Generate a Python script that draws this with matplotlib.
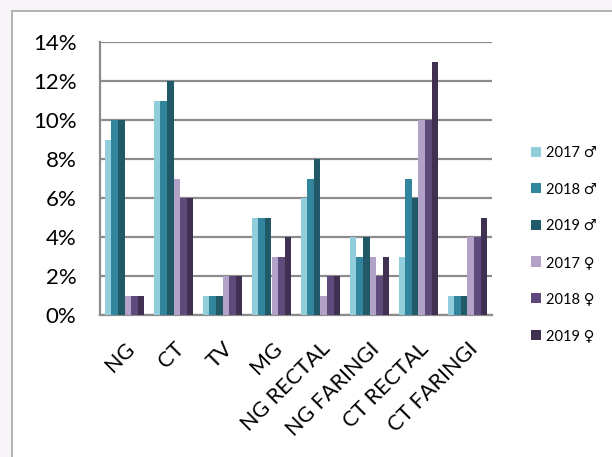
import matplotlib
matplotlib.use("Agg")
import matplotlib.pyplot as plt
from matplotlib.patches import Rectangle
import numpy as np

plt.rcParams["font.family"] = ["Lato", "DejaVu Sans"]

categories = ["NG", "CT", "TV", "MG", "NG RECTAL", "NG FARINGI", "CT RECTAL", "CT FARINGI"]
series_labels = ["2017 ♂", "2018 ♂", "2019 ♂", "2017 ♀", "2018 ♀", "2019 ♀"]
male_2017 = [9, 11, 1, 5, 6, 4, 3, 1]
male_2018 = [10, 11, 1, 5, 7, 3, 7, 1]
male_2019 = [10, 12, 1, 5, 8, 4, 6, 1]
female_2017 = [1, 7, 2, 3, 1, 3, 10, 4]
female_2018 = [1, 6, 2, 3, 2, 2, 10, 4]
female_2019 = [1, 6, 2, 4, 2, 3, 13, 5]
series_values = [male_2017, male_2018, male_2019, female_2017, female_2018, female_2019]
colors = ["#92CDDC", "#31859C", "#215968", "#B3A2C7", "#604A7B", "#403152"]
y_ticks = [0, 2, 4, 6, 8, 10, 12, 14]

fig = plt.figure(figsize=(6.12, 4.57), dpi=100)
fig.patch.set_facecolor("#f8f5f9")
# chart frame (white area with gray border, cut by the image edges)
fig.patches.append(Rectangle((12 / 612, -0.05), 1.0, 1 - 11 / 457 + 0.05,
                             transform=fig.transFigure, facecolor="white",
                             edgecolor="#a6a6a6", linewidth=1.2, zorder=-5))

ax = fig.add_axes([100 / 612, 1 - 315 / 457, 392 / 612, 273 / 457])
ax.set_zorder(2)
ax.set_facecolor("white")

x = np.arange(len(categories))
w = 0.133
for i, (vals, col, lab) in enumerate(zip(series_values, colors, series_labels)):
    ax.bar(x + (i - 2.5) * w, vals, width=w, color=col, label=lab, zorder=3)

ax.set_xlim(-0.5, len(categories) - 0.5)
ax.set_ylim(0, 14)
ax.set_yticks(y_ticks)
ax.set_yticklabels([f"{t}%" for t in y_ticks], fontsize=16)
ax.set_xticks(x)
ax.set_xticklabels(categories, rotation=45, ha="right", rotation_mode="anchor", fontsize=15.5)
ax.tick_params(axis="both", length=0)
ax.tick_params(axis="y", pad=17)
ax.tick_params(axis="x", pad=17)

ax.set_axisbelow(True)
ax.yaxis.grid(True, color="#8c8c8c", linewidth=1.6)
for side in ["top", "right"]:
    ax.spines[side].set_visible(False)
for side in ["left", "bottom"]:
    ax.spines[side].set_color("#8c8c8c")
    ax.spines[side].set_linewidth(1.6)

handles, labels = ax.get_legend_handles_labels()
leg = fig.legend(handles, labels, loc="upper left", bbox_to_anchor=(525 / 612, 1 - 140 / 457),
                 frameon=False, fontsize=10.5, labelspacing=1.55, handlelength=0.7,
                 handleheight=0.7, handletextpad=0.35, borderaxespad=0)
leg.set_zorder(3)

fig.savefig("out.png", dpi=100, facecolor=fig.get_facecolor())
